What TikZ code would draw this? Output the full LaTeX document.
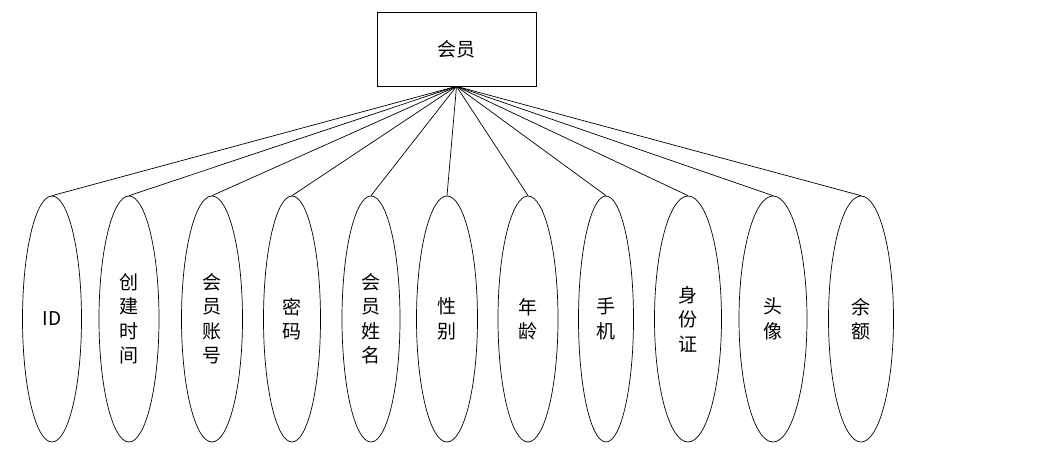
\documentclass[tikz,border=0pt]{standalone}
\usepackage{fontspec}
\newfontfamily\cjk{Noto Sans CJK SC}
\usetikzlibrary{shapes.geometric}
\begin{document}
\begin{tikzpicture}[x=1pt,y=-1pt,
  entity/.style={draw, line width=0.7pt, minimum width=159pt, minimum height=74pt, inner sep=0pt, font=\cjk\fontsize{19}{24.5}\selectfont},
  attr/.style={draw, ellipse, line width=0.7pt, minimum height=246pt, inner sep=0pt, align=center, font=\cjk\fontsize{19}{24.5}\selectfont},
  link/.style={line width=0.7pt}]
\useasboundingbox (0,0) rectangle (1044,450);
\node[entity] (m) at (456.5,49) {会员};
\node[attr, minimum width=59pt] (e1) at (52,319) {ID};
\node[attr, minimum width=60pt] (e2) at (129,319) {创\\建\\时\\间};
\node[attr, minimum width=61pt] (e3) at (212,319) {会\\员\\账\\号};
\node[attr, minimum width=57pt] (e4) at (292,319) {密\\码};
\node[attr, minimum width=58pt] (e5) at (371,319) {会\\员\\姓\\名};
\node[attr, minimum width=61pt] (e6) at (447,319) {性\\别};
\node[attr, minimum width=60pt] (e7) at (528,319) {年\\龄};
\node[attr, minimum width=55pt] (e8) at (606,319) {手\\机};
\node[attr, minimum width=67pt] (e9) at (688,319) {身\\份\\证};
\node[attr, minimum width=68pt] (e10) at (773,319) {头\\像};
\node[attr, minimum width=65pt] (e11) at (861,319) {余\\额};
\foreach \i in {1,...,11} {\draw[link] (m.south) -- (e\i.north);}
\end{tikzpicture}
\end{document}
